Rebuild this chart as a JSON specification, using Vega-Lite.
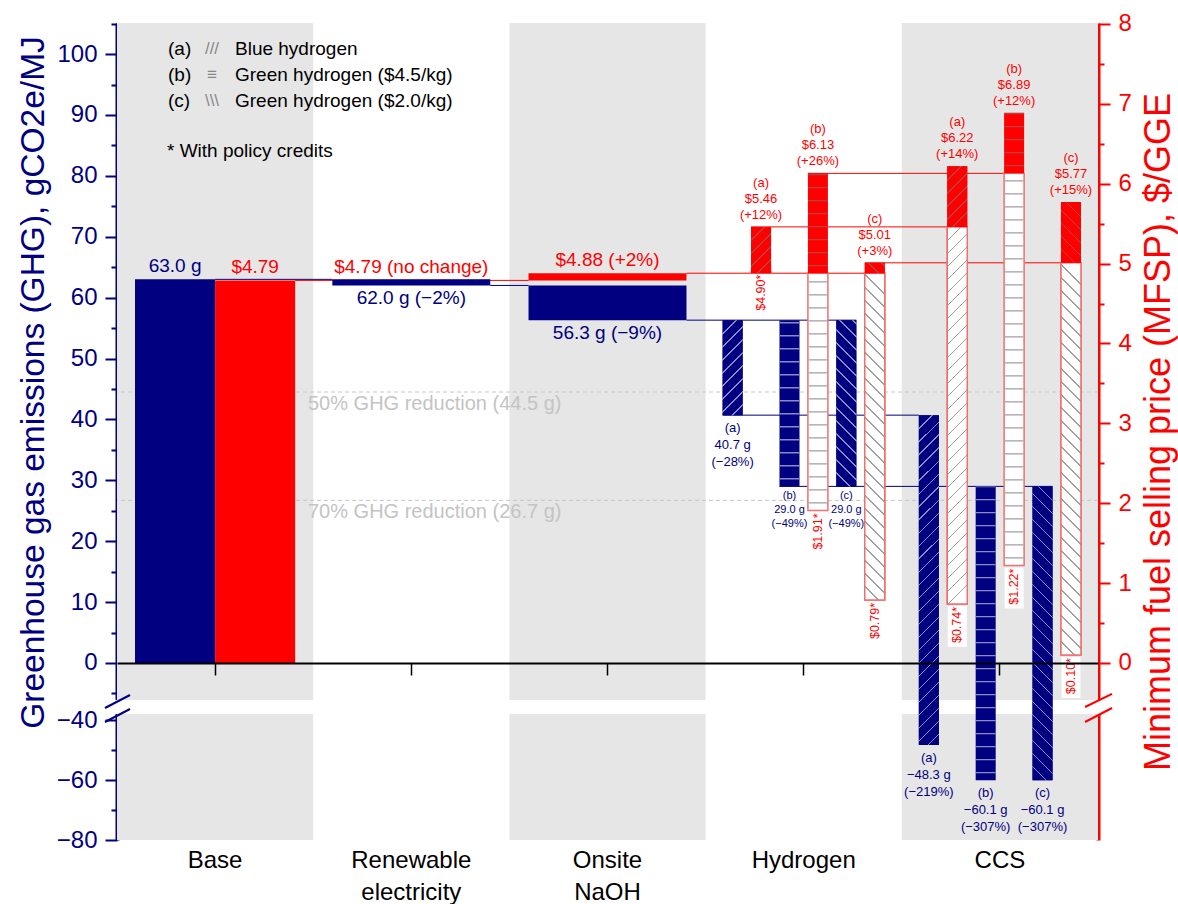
{
  "$schema": "https://vega.github.io/schema/vega-lite/v6.json",
  "width": 981,
  "height": 817,
  "autosize": {"type": "none"},
  "padding": {"left": 117, "top": 23, "right": 80, "bottom": 64},
  "config": {"font": "Liberation Sans", "view": {"stroke": null}, "axis": {"grid": false}},
  "datasets": {
    "bands": [{"cat": "Base"}, {"cat": "Onsite NaOH"}, {"cat": "CCS"}],
    "refs": [
      {"ref": 44.5, "label": "50% GHG reduction (44.5 g)"},
      {"ref": 26.7, "label": "70% GHG reduction (26.7 g)"}
    ],
    "ghgBase": [{"cat": "Base", "m": "GHG", "lo": 0, "hi": 63.0, "label": "63.0 g"}],
    "priceBase": [{"cat": "Base", "m": "MFSP", "lo": 0, "hi": 4.79, "label": "$4.79"}],
    "ghgWide": [
      {"cat": "Renewable electricity", "lo": 62.0, "hi": 63.0, "label": "62.0 g (−2%)"},
      {"cat": "Onsite NaOH", "lo": 56.3, "hi": 62.0, "label": "56.3 g (−9%)"}
    ],
    "priceWide": [
      {"cat": "Renewable electricity", "lo": 4.79, "hi": 4.79, "label": "$4.79 (no change)"},
      {"cat": "Onsite NaOH", "lo": 4.79, "hi": 4.88, "label": "$4.88 (+2%)"}
    ],
    "ghgNarrow": [
      {"cat": "Hydrogen", "slot": "G a", "lo": 40.7, "hi": 56.3, "label": "(a)\n40.7 g\n(−28%)"},
      {"cat": "Hydrogen", "slot": "G b", "lo": 29.0, "hi": 56.3, "label": "(b)\n29.0 g\n(−49%)"},
      {"cat": "Hydrogen", "slot": "G c", "lo": 29.0, "hi": 56.3, "label": "(c)\n29.0 g\n(−49%)"},
      {"cat": "CCS", "slot": "G a", "lo": -48.3, "hi": 40.7, "label": "(a)\n−48.3 g\n(−219%)"},
      {"cat": "CCS", "slot": "G b", "lo": -60.1, "hi": 29.0, "label": "(b)\n−60.1 g\n(−307%)"},
      {"cat": "CCS", "slot": "G c", "lo": -60.1, "hi": 29.0, "label": "(c)\n−60.1 g\n(−307%)"}
    ],
    "priceNarrow": [
      {"cat": "Hydrogen", "slot": "P a", "lo": 4.88, "hi": 5.46, "credit": 4.90, "label": "(a)\n$5.46\n(+12%)", "clabel": "$4.90*"},
      {"cat": "Hydrogen", "slot": "P b", "lo": 4.88, "hi": 6.13, "credit": 1.91, "label": "(b)\n$6.13\n(+26%)", "clabel": "$1.91*"},
      {"cat": "Hydrogen", "slot": "P c", "lo": 4.88, "hi": 5.01, "credit": 0.79, "label": "(c)\n$5.01\n(+3%)", "clabel": "$0.79*"},
      {"cat": "CCS", "slot": "P a", "lo": 5.46, "hi": 6.22, "credit": 0.74, "label": "(a)\n$6.22\n(+14%)", "clabel": "$0.74*"},
      {"cat": "CCS", "slot": "P b", "lo": 6.13, "hi": 6.89, "credit": 1.22, "label": "(b)\n$6.89\n(+12%)", "clabel": "$1.22*"},
      {"cat": "CCS", "slot": "P c", "lo": 5.01, "hi": 5.77, "credit": 0.10, "label": "(c)\n$5.77\n(+15%)", "clabel": "$0.10*"}
    ]
  },
  "layer": [
    {
      "data": {"name": "bands"},
      "layer": [
        {
          "mark": {"type": "rect", "color": "#e6e6e6"},
          "encoding": {
            "x": {"field": "cat", "type": "nominal", "scale": {"type": "band", "domain": ["Base", "Renewable electricity", "Onsite NaOH", "Hydrogen", "CCS"], "paddingInner": 0, "paddingOuter": 0}, "axis": null},
            "y": {"datum": -80, "type": "quantitative", "scale": {"domain": [-80, -38, -6.08, 105.1], "range": [817, 691, 677, 0], "nice": false, "zero": false},
              "axis": {"orient": "left", "title": "Greenhouse gas emissions (GHG), gCO2e/MJ", "values": [-80, -60, -40, 0, 10, 20, 30, 40, 50, 60, 70, 80, 90, 100],
                "tickSize": 12, "tickWidth": 2, "tickColor": "#000080", "domainColor": "#000080", "domainWidth": 4,
                "labelColor": "#000080", "labelFontSize": 24, "labelPadding": 8, "labelOverlap": false, "labelFlush": false,
                "titleColor": "#000080", "titleFontSize": 33.5, "titleFontWeight": "normal", "titlePadding": 6, "titleY": 359}},
            "y2": {"datum": 105.1}
          }
        },
        {
          "data": {"name": "refs"},
          "mark": {"type": "rule", "color": "#c8c8c8", "strokeDash": [4, 3], "strokeWidth": 1},
          "encoding": {
            "y": {"field": "ref", "type": "quantitative", "scale": {"domain": [-80, -38, -6.08, 105.1], "range": [817, 691, 677, 0], "nice": false, "zero": false},
              "axis": {"orient": "left", "title": "Greenhouse gas emissions (GHG), gCO2e/MJ", "values": [-80, -60, -40, 0, 10, 20, 30, 40, 50, 60, 70, 80, 90, 100],
                "tickSize": 12, "tickWidth": 2, "tickColor": "#000080", "domainColor": "#000080", "domainWidth": 4,
                "labelColor": "#000080", "labelFontSize": 24, "labelPadding": 8, "labelOverlap": false, "labelFlush": false,
                "titleColor": "#000080", "titleFontSize": 33.5, "titleFontWeight": "normal", "titlePadding": 6, "titleY": 359}}
          }
        }
      ]
    },
    {
      "data": {"values": [{}]},
      "mark": {"type": "rect", "color": "white"},
      "encoding": {
        "x": {"datum": -0.08, "type": "quantitative", "scale": {"domain": [0, 5], "nice": false, "zero": false}, "axis": null},
        "x2": {"datum": 5.08},
        "y": {"datum": -38, "type": "quantitative", "scale": {"domain": [-80, -38, -6.08, 105.1], "range": [817, 691, 677, 0], "nice": false, "zero": false},
          "axis": {"orient": "left", "title": null, "labels": false, "domain": false, "ticks": true, "tickSize": 6, "tickWidth": 2, "tickColor": "#000080",
            "values": [-70, -50, -5, 5, 15, 25, 35, 45, 55, 65, 75, 85, 95, 105]}},
        "y2": {"datum": -6.08}
      }
    },
    {
      "data": {"values": [{}]},
      "layer": [
        {"mark": {"type": "rule", "color": "#000080", "strokeWidth": 1}, "encoding": {"x": {"datum": 0.5, "type": "quantitative", "scale": {"domain": [0, 5], "nice": false, "zero": false}, "axis": null}, "x2": {"datum": 1.0975}, "y": {"datum": 63.0, "type": "quantitative", "scale": {"domain": [-80, -38, -6.08, 105.1], "range": [817, 691, 677, 0], "nice": false, "zero": false}, "axis": null}}},
        {"mark": {"type": "rule", "color": "#000080", "strokeWidth": 1}, "encoding": {"x": {"datum": 1.9025, "type": "quantitative", "scale": {"domain": [0, 5], "nice": false, "zero": false}, "axis": null}, "x2": {"datum": 2.0975}, "y": {"datum": 62.0, "type": "quantitative", "scale": {"domain": [-80, -38, -6.08, 105.1], "range": [817, 691, 677, 0], "nice": false, "zero": false}, "axis": null}}},
        {"mark": {"type": "rule", "color": "#000080", "strokeWidth": 1}, "encoding": {"x": {"datum": 2.9025, "type": "quantitative", "scale": {"domain": [0, 5], "nice": false, "zero": false}, "axis": null}, "x2": {"datum": 3.7684}, "y": {"datum": 56.3, "type": "quantitative", "scale": {"domain": [-80, -38, -6.08, 105.1], "range": [817, 691, 677, 0], "nice": false, "zero": false}, "axis": null}}},
        {"mark": {"type": "rule", "color": "#000080", "strokeWidth": 1}, "encoding": {"x": {"datum": 3.0868, "type": "quantitative", "scale": {"domain": [0, 5], "nice": false, "zero": false}, "axis": null}, "x2": {"datum": 4.0868}, "y": {"datum": 40.7, "type": "quantitative", "scale": {"domain": [-80, -38, -6.08, 105.1], "range": [817, 691, 677, 0], "nice": false, "zero": false}, "axis": null}}},
        {"mark": {"type": "rule", "color": "#000080", "strokeWidth": 1}, "encoding": {"x": {"datum": 3.3766, "type": "quantitative", "scale": {"domain": [0, 5], "nice": false, "zero": false}, "axis": null}, "x2": {"datum": 4.7684}, "y": {"datum": 29.0, "type": "quantitative", "scale": {"domain": [-80, -38, -6.08, 105.1], "range": [817, 691, 677, 0], "nice": false, "zero": false}, "axis": null}}},
        {
          "data": {"name": "refs"},
          "mark": {"type": "text", "align": "left", "baseline": "top", "dy": 2, "fontSize": 20, "color": "#c4c4c4"},
          "encoding": {
            "x": {"datum": 0.9735, "type": "quantitative", "scale": {"domain": [0, 5], "nice": false, "zero": false}, "axis": null},
            "y": {"field": "ref", "type": "quantitative", "scale": {"domain": [-80, -38, -6.08, 105.1], "range": [817, 691, 677, 0], "nice": false, "zero": false}, "axis": null},
            "text": {"field": "label"}
          }
        },
        {"mark": {"type": "text", "text": "(a)\n(b)\n(c)", "lineBreak": "\n", "lineHeight": 26, "align": "left", "baseline": "middle", "fontSize": 19, "color": "black"}, "encoding": {"x": {"datum": 0.26, "type": "quantitative", "scale": {"domain": [0, 5], "nice": false, "zero": false}, "axis": null}, "y": {"datum": 100.84, "type": "quantitative", "scale": {"domain": [-80, -38, -6.08, 105.1], "range": [817, 691, 677, 0], "nice": false, "zero": false}, "axis": null}}},
        {"mark": {"type": "text", "text": "///\n≡\n\\\\\\", "lineBreak": "\n", "lineHeight": 26, "align": "center", "baseline": "middle", "fontSize": 17, "color": "#888888"}, "encoding": {"x": {"datum": 0.4842, "type": "quantitative", "scale": {"domain": [0, 5], "nice": false, "zero": false}, "axis": null}, "y": {"datum": 100.84, "type": "quantitative", "scale": {"domain": [-80, -38, -6.08, 105.1], "range": [817, 691, 677, 0], "nice": false, "zero": false}, "axis": null}}},
        {"mark": {"type": "text", "text": "Blue hydrogen\nGreen hydrogen ($4.5/kg)\nGreen hydrogen ($2.0/kg)", "lineBreak": "\n", "lineHeight": 26, "align": "left", "baseline": "middle", "fontSize": 19, "color": "black"}, "encoding": {"x": {"datum": 0.6014, "type": "quantitative", "scale": {"domain": [0, 5], "nice": false, "zero": false}, "axis": null}, "y": {"datum": 100.84, "type": "quantitative", "scale": {"domain": [-80, -38, -6.08, 105.1], "range": [817, 691, 677, 0], "nice": false, "zero": false}, "axis": null}}},
        {"mark": {"type": "text", "text": "* With policy credits", "align": "left", "baseline": "middle", "fontSize": 19, "color": "black"}, "encoding": {"x": {"datum": 0.2548, "type": "quantitative", "scale": {"domain": [0, 5], "nice": false, "zero": false}, "axis": null}, "y": {"datum": 84.1, "type": "quantitative", "scale": {"domain": [-80, -38, -6.08, 105.1], "range": [817, 691, 677, 0], "nice": false, "zero": false}, "axis": null}}},
        {"mark": {"type": "rule", "color": "#000080", "strokeWidth": 2}, "encoding": {"x": {"datum": -0.0612, "type": "quantitative", "scale": {"domain": [0, 5], "nice": false, "zero": false}, "axis": null}, "x2": {"datum": 0.0663}, "y": {"datum": -24.32, "type": "quantitative", "scale": {"domain": [-80, -38, -6.08, 105.1], "range": [817, 691, 677, 0], "nice": false, "zero": false}, "axis": null}, "y2": {"datum": -5.26}}},
        {"mark": {"type": "rule", "color": "#000080", "strokeWidth": 2}, "encoding": {"x": {"datum": -0.0612, "type": "quantitative", "scale": {"domain": [0, 5], "nice": false, "zero": false}, "axis": null}, "x2": {"datum": 0.0663}, "y": {"datum": -40.67, "type": "quantitative", "scale": {"domain": [-80, -38, -6.08, 105.1], "range": [817, 691, 677, 0], "nice": false, "zero": false}, "axis": null}, "y2": {"datum": -26.6}}},
        {"mark": {"type": "rule", "color": "#ff0000", "strokeWidth": 2}, "encoding": {"x": {"datum": 4.934, "type": "quantitative", "scale": {"domain": [0, 5], "nice": false, "zero": false}, "axis": null}, "x2": {"datum": 5.0714}, "y": {"datum": -22.04, "type": "quantitative", "scale": {"domain": [-80, -38, -6.08, 105.1], "range": [817, 691, 677, 0], "nice": false, "zero": false}, "axis": null}, "y2": {"datum": -5.09}}},
        {"mark": {"type": "rule", "color": "#ff0000", "strokeWidth": 2}, "encoding": {"x": {"datum": 4.934, "type": "quantitative", "scale": {"domain": [0, 5], "nice": false, "zero": false}, "axis": null}, "x2": {"datum": 5.0714}, "y": {"datum": -40.67, "type": "quantitative", "scale": {"domain": [-80, -38, -6.08, 105.1], "range": [817, 691, 677, 0], "nice": false, "zero": false}, "axis": null}, "y2": {"datum": -24.32}}}
      ]
    },
    {
      "data": {"values": [{}]},
      "mark": {"type": "rule", "color": "#ff0000", "strokeWidth": 1},
      "encoding": {"x": {"datum": 0.9082, "type": "quantitative", "scale": {"domain": [0, 5], "nice": false, "zero": false}, "axis": null}, "x2": {"datum": 2.0975},
        "y": {"datum": 4.79, "type": "quantitative", "scale": {"domain": [-2.216, 8.0125], "range": [817, 0], "nice": false, "zero": false},
          "axis": {"orient": "right", "title": "Minimum fuel selling price (MFSP), $/GGE", "values": [0, 1, 2, 3, 4, 5, 6, 7, 8],
            "tickSize": 12, "tickWidth": 2, "tickColor": "#ff0000", "domainColor": "#ff0000", "domainWidth": 4,
            "labelColor": "#ff0000", "labelFontSize": 24, "labelPadding": 8, "labelOverlap": false, "labelFlush": false,
            "titleColor": "#ff0000", "titleFontSize": 36, "titleFontWeight": "normal", "titlePadding": 10, "titleAngle": 270, "titleBaseline": "top"}}}
    },
    {
      "data": {"values": [{}]},
      "mark": {"type": "rule", "color": "#ff0000", "strokeWidth": 1},
      "encoding": {"x": {"datum": 2.9025, "type": "quantitative", "scale": {"domain": [0, 5], "nice": false, "zero": false}, "axis": null}, "x2": {"datum": 3.9133},
        "y": {"datum": 4.88, "type": "quantitative", "scale": {"domain": [-2.216, 8.0125], "range": [817, 0], "nice": false, "zero": false},
          "axis": {"orient": "right", "title": null, "labels": false, "domain": false, "ticks": true, "tickSize": 6, "tickWidth": 2, "tickColor": "#ff0000",
            "values": [0.5, 1.5, 2.5, 3.5, 4.5, 5.5, 6.5, 7.5]}}}
    },
    {
      "data": {"values": [{}]},
      "layer": [
        {"mark": {"type": "rule", "color": "#ff0000", "strokeWidth": 1}, "encoding": {"x": {"datum": 3.2317, "type": "quantitative", "scale": {"domain": [0, 5], "nice": false, "zero": false}, "axis": null}, "x2": {"datum": 4.3337}, "y": {"datum": 5.46, "type": "quantitative", "scale": {"domain": [-2.216, 8.0125], "range": [817, 0], "nice": false, "zero": false}, "axis": null}}},
        {"mark": {"type": "rule", "color": "#ff0000", "strokeWidth": 1}, "encoding": {"x": {"datum": 3.5215, "type": "quantitative", "scale": {"domain": [0, 5], "nice": false, "zero": false}, "axis": null}, "x2": {"datum": 4.6235}, "y": {"datum": 6.13, "type": "quantitative", "scale": {"domain": [-2.216, 8.0125], "range": [817, 0], "nice": false, "zero": false}, "axis": null}}},
        {"mark": {"type": "rule", "color": "#ff0000", "strokeWidth": 1}, "encoding": {"x": {"datum": 3.8113, "type": "quantitative", "scale": {"domain": [0, 5], "nice": false, "zero": false}, "axis": null}, "x2": {"datum": 4.9133}, "y": {"datum": 5.01, "type": "quantitative", "scale": {"domain": [-2.216, 8.0125], "range": [817, 0], "nice": false, "zero": false}, "axis": null}}}
      ]
    },
    {
      "encoding": {
        "x": {
          "field": "cat", "type": "nominal",
          "scale": {"type": "band", "domain": ["Base", "Renewable electricity", "Onsite NaOH", "Hydrogen", "CCS"], "paddingInner": 0, "paddingOuter": 0},
          "axis": {
            "orient": "bottom", "offset": -177, "title": null, "zindex": 1,
            "domainColor": "black", "domainWidth": 2, "tickColor": "black", "tickSize": 12, "tickWidth": 1.5,
            "labelFontSize": 24, "labelColor": "black", "labelPadding": 173, "labelAngle": 0, "labelLineHeight": 32, "labelLimit": 0,
            "labelExpr": "datum.label == 'Renewable electricity' ? ['Renewable', 'electricity'] : datum.label == 'Onsite NaOH' ? ['Onsite', 'NaOH'] : datum.label"
          }
        }
      },
      "layer": [
        {
          "data": {"name": "ghgBase"},
          "encoding": {"xOffset": {"field": "m", "type": "nominal", "scale": {"domain": ["GHG", "MFSP"], "paddingInner": 0, "paddingOuter": 0.225}}},
          "layer": [
            {
              "mark": {"type": "bar", "color": "#000080"},
              "encoding": {
                "y": {"field": "lo", "type": "quantitative", "scale": {"domain": [-80, -38, -6.08, 105.1], "range": [817, 691, 677, 0], "nice": false, "zero": false}, "axis": null},
                "y2": {"field": "hi"}
              }
            },
            {
              "mark": {"type": "text", "baseline": "bottom", "dy": -3, "fontSize": 19, "color": "#000080"},
              "encoding": {
                "y": {"field": "hi", "type": "quantitative", "scale": {"domain": [-80, -38, -6.08, 105.1], "range": [817, 691, 677, 0], "nice": false, "zero": false}, "axis": null},
                "text": {"field": "label"}
              }
            }
          ]
        },
        {
          "data": {"name": "ghgWide"},
          "layer": [
            {
              "mark": {"type": "bar", "color": "#000080", "width": {"band": 0.805}},
              "encoding": {
                "y": {"field": "lo", "type": "quantitative", "scale": {"domain": [-80, -38, -6.08, 105.1], "range": [817, 691, 677, 0], "nice": false, "zero": false}, "axis": null},
                "y2": {"field": "hi"}
              }
            },
            {
              "mark": {"type": "text", "baseline": "top", "dy": 4, "fontSize": 19, "color": "#000080"},
              "encoding": {
                "y": {"field": "lo", "type": "quantitative", "scale": {"domain": [-80, -38, -6.08, 105.1], "range": [817, 691, 677, 0], "nice": false, "zero": false}, "axis": null},
                "text": {"field": "label"}
              }
            }
          ]
        },
        {
          "data": {"name": "ghgNarrow"},
          "encoding": {
            "xOffset": {"field": "slot", "type": "nominal", "scale": {"domain": ["G a", "P a", "G b", "P b", "G c", "P c"], "paddingInner": 0.296, "paddingOuter": 0.599}},
            "y": {"field": "lo", "type": "quantitative", "scale": {"domain": [-80, -38, -6.08, 105.1], "range": [817, 691, 677, 0], "nice": false, "zero": false}, "axis": null}
          },
          "layer": [
            {"mark": {"type": "bar", "color": "#000080"}, "encoding": {"y2": {"field": "hi"}}},
            {
              "transform": [{"filter": "datum.cat == 'Hydrogen' && datum.slot == 'G a'"}],
              "mark": {"type": "bar", "fill": {"gradient": "linear", "x1": 0, "y1": 0, "x2": 0.244, "y2": 1.1592, "stops": [
                {"offset": 0.1130, "color": "#000080"}, {"offset": 0.1130, "color": "#8a8ac4"}, {"offset": 0.1269, "color": "#8a8ac4"}, {"offset": 0.1269, "color": "#000080"},
                {"offset": 0.2261, "color": "#000080"}, {"offset": 0.2261, "color": "#8a8ac4"}, {"offset": 0.2400, "color": "#8a8ac4"}, {"offset": 0.2400, "color": "#000080"},
                {"offset": 0.3391, "color": "#000080"}, {"offset": 0.3391, "color": "#8a8ac4"}, {"offset": 0.3530, "color": "#8a8ac4"}, {"offset": 0.3530, "color": "#000080"},
                {"offset": 0.4522, "color": "#000080"}, {"offset": 0.4522, "color": "#8a8ac4"}, {"offset": 0.4661, "color": "#8a8ac4"}, {"offset": 0.4661, "color": "#000080"},
                {"offset": 0.5652, "color": "#000080"}, {"offset": 0.5652, "color": "#8a8ac4"}, {"offset": 0.5791, "color": "#8a8ac4"}, {"offset": 0.5791, "color": "#000080"},
                {"offset": 0.6783, "color": "#000080"}, {"offset": 0.6783, "color": "#8a8ac4"}, {"offset": 0.6922, "color": "#8a8ac4"}, {"offset": 0.6922, "color": "#000080"},
                {"offset": 0.7913, "color": "#000080"}, {"offset": 0.7913, "color": "#8a8ac4"}, {"offset": 0.8052, "color": "#8a8ac4"}, {"offset": 0.8052, "color": "#000080"},
                {"offset": 0.9043, "color": "#000080"}, {"offset": 0.9043, "color": "#8a8ac4"}, {"offset": 0.9182, "color": "#8a8ac4"}, {"offset": 0.9182, "color": "#000080"}
              ]}},
              "encoding": {"y2": {"field": "hi"}}
            },
            {
              "transform": [{"filter": "datum.cat == 'Hydrogen' && datum.slot == 'G c'"}],
              "mark": {"type": "bar", "fill": {"gradient": "linear", "x1": 0, "y1": 1, "x2": 0.1329, "y2": -0.1044, "stops": [
                {"offset": 0.0698, "color": "#000080"}, {"offset": 0.0698, "color": "#8a8ac4"}, {"offset": 0.0784, "color": "#8a8ac4"}, {"offset": 0.0784, "color": "#000080"},
                {"offset": 0.1396, "color": "#000080"}, {"offset": 0.1396, "color": "#8a8ac4"}, {"offset": 0.1482, "color": "#8a8ac4"}, {"offset": 0.1482, "color": "#000080"},
                {"offset": 0.2094, "color": "#000080"}, {"offset": 0.2094, "color": "#8a8ac4"}, {"offset": 0.2180, "color": "#8a8ac4"}, {"offset": 0.2180, "color": "#000080"},
                {"offset": 0.2793, "color": "#000080"}, {"offset": 0.2793, "color": "#8a8ac4"}, {"offset": 0.2879, "color": "#8a8ac4"}, {"offset": 0.2879, "color": "#000080"},
                {"offset": 0.3491, "color": "#000080"}, {"offset": 0.3491, "color": "#8a8ac4"}, {"offset": 0.3577, "color": "#8a8ac4"}, {"offset": 0.3577, "color": "#000080"},
                {"offset": 0.4189, "color": "#000080"}, {"offset": 0.4189, "color": "#8a8ac4"}, {"offset": 0.4275, "color": "#8a8ac4"}, {"offset": 0.4275, "color": "#000080"},
                {"offset": 0.4887, "color": "#000080"}, {"offset": 0.4887, "color": "#8a8ac4"}, {"offset": 0.4973, "color": "#8a8ac4"}, {"offset": 0.4973, "color": "#000080"},
                {"offset": 0.5585, "color": "#000080"}, {"offset": 0.5585, "color": "#8a8ac4"}, {"offset": 0.5671, "color": "#8a8ac4"}, {"offset": 0.5671, "color": "#000080"},
                {"offset": 0.6284, "color": "#000080"}, {"offset": 0.6284, "color": "#8a8ac4"}, {"offset": 0.6370, "color": "#8a8ac4"}, {"offset": 0.6370, "color": "#000080"},
                {"offset": 0.6982, "color": "#000080"}, {"offset": 0.6982, "color": "#8a8ac4"}, {"offset": 0.7068, "color": "#8a8ac4"}, {"offset": 0.7068, "color": "#000080"},
                {"offset": 0.7680, "color": "#000080"}, {"offset": 0.7680, "color": "#8a8ac4"}, {"offset": 0.7766, "color": "#8a8ac4"}, {"offset": 0.7766, "color": "#000080"},
                {"offset": 0.8378, "color": "#000080"}, {"offset": 0.8378, "color": "#8a8ac4"}, {"offset": 0.8464, "color": "#8a8ac4"}, {"offset": 0.8464, "color": "#000080"},
                {"offset": 0.9076, "color": "#000080"}, {"offset": 0.9076, "color": "#8a8ac4"}, {"offset": 0.9162, "color": "#8a8ac4"}, {"offset": 0.9162, "color": "#000080"},
                {"offset": 0.9774, "color": "#000080"}, {"offset": 0.9774, "color": "#8a8ac4"}, {"offset": 0.9860, "color": "#8a8ac4"}, {"offset": 0.9860, "color": "#000080"}
              ]}},
              "encoding": {"y2": {"field": "hi"}}
            },
            {
              "transform": [{"filter": "datum.cat == 'CCS' && datum.slot == 'G a'"}],
              "mark": {"type": "bar", "fill": {"gradient": "linear", "x1": 0, "y1": 0, "x2": 0.0641, "y2": 1.0568, "stops": [
                {"offset": 0.0372, "color": "#000080"}, {"offset": 0.0372, "color": "#8a8ac4"}, {"offset": 0.0418, "color": "#8a8ac4"}, {"offset": 0.0418, "color": "#000080"},
                {"offset": 0.0744, "color": "#000080"}, {"offset": 0.0744, "color": "#8a8ac4"}, {"offset": 0.0790, "color": "#8a8ac4"}, {"offset": 0.0790, "color": "#000080"},
                {"offset": 0.1115, "color": "#000080"}, {"offset": 0.1115, "color": "#8a8ac4"}, {"offset": 0.1161, "color": "#8a8ac4"}, {"offset": 0.1161, "color": "#000080"},
                {"offset": 0.1487, "color": "#000080"}, {"offset": 0.1487, "color": "#8a8ac4"}, {"offset": 0.1533, "color": "#8a8ac4"}, {"offset": 0.1533, "color": "#000080"},
                {"offset": 0.1859, "color": "#000080"}, {"offset": 0.1859, "color": "#8a8ac4"}, {"offset": 0.1905, "color": "#8a8ac4"}, {"offset": 0.1905, "color": "#000080"},
                {"offset": 0.2231, "color": "#000080"}, {"offset": 0.2231, "color": "#8a8ac4"}, {"offset": 0.2277, "color": "#8a8ac4"}, {"offset": 0.2277, "color": "#000080"},
                {"offset": 0.2602, "color": "#000080"}, {"offset": 0.2602, "color": "#8a8ac4"}, {"offset": 0.2648, "color": "#8a8ac4"}, {"offset": 0.2648, "color": "#000080"},
                {"offset": 0.2974, "color": "#000080"}, {"offset": 0.2974, "color": "#8a8ac4"}, {"offset": 0.3020, "color": "#8a8ac4"}, {"offset": 0.3020, "color": "#000080"},
                {"offset": 0.3346, "color": "#000080"}, {"offset": 0.3346, "color": "#8a8ac4"}, {"offset": 0.3392, "color": "#8a8ac4"}, {"offset": 0.3392, "color": "#000080"},
                {"offset": 0.3718, "color": "#000080"}, {"offset": 0.3718, "color": "#8a8ac4"}, {"offset": 0.3764, "color": "#8a8ac4"}, {"offset": 0.3764, "color": "#000080"},
                {"offset": 0.4089, "color": "#000080"}, {"offset": 0.4089, "color": "#8a8ac4"}, {"offset": 0.4135, "color": "#8a8ac4"}, {"offset": 0.4135, "color": "#000080"},
                {"offset": 0.4461, "color": "#000080"}, {"offset": 0.4461, "color": "#8a8ac4"}, {"offset": 0.4507, "color": "#8a8ac4"}, {"offset": 0.4507, "color": "#000080"},
                {"offset": 0.4833, "color": "#000080"}, {"offset": 0.4833, "color": "#8a8ac4"}, {"offset": 0.4879, "color": "#8a8ac4"}, {"offset": 0.4879, "color": "#000080"},
                {"offset": 0.5205, "color": "#000080"}, {"offset": 0.5205, "color": "#8a8ac4"}, {"offset": 0.5251, "color": "#8a8ac4"}, {"offset": 0.5251, "color": "#000080"},
                {"offset": 0.5576, "color": "#000080"}, {"offset": 0.5576, "color": "#8a8ac4"}, {"offset": 0.5622, "color": "#8a8ac4"}, {"offset": 0.5622, "color": "#000080"},
                {"offset": 0.5948, "color": "#000080"}, {"offset": 0.5948, "color": "#8a8ac4"}, {"offset": 0.5994, "color": "#8a8ac4"}, {"offset": 0.5994, "color": "#000080"},
                {"offset": 0.6320, "color": "#000080"}, {"offset": 0.6320, "color": "#8a8ac4"}, {"offset": 0.6366, "color": "#8a8ac4"}, {"offset": 0.6366, "color": "#000080"},
                {"offset": 0.6692, "color": "#000080"}, {"offset": 0.6692, "color": "#8a8ac4"}, {"offset": 0.6738, "color": "#8a8ac4"}, {"offset": 0.6738, "color": "#000080"},
                {"offset": 0.7063, "color": "#000080"}, {"offset": 0.7063, "color": "#8a8ac4"}, {"offset": 0.7109, "color": "#8a8ac4"}, {"offset": 0.7109, "color": "#000080"},
                {"offset": 0.7435, "color": "#000080"}, {"offset": 0.7435, "color": "#8a8ac4"}, {"offset": 0.7481, "color": "#8a8ac4"}, {"offset": 0.7481, "color": "#000080"},
                {"offset": 0.7807, "color": "#000080"}, {"offset": 0.7807, "color": "#8a8ac4"}, {"offset": 0.7853, "color": "#8a8ac4"}, {"offset": 0.7853, "color": "#000080"},
                {"offset": 0.8179, "color": "#000080"}, {"offset": 0.8179, "color": "#8a8ac4"}, {"offset": 0.8225, "color": "#8a8ac4"}, {"offset": 0.8225, "color": "#000080"},
                {"offset": 0.8550, "color": "#000080"}, {"offset": 0.8550, "color": "#8a8ac4"}, {"offset": 0.8596, "color": "#8a8ac4"}, {"offset": 0.8596, "color": "#000080"},
                {"offset": 0.8922, "color": "#000080"}, {"offset": 0.8922, "color": "#8a8ac4"}, {"offset": 0.8968, "color": "#8a8ac4"}, {"offset": 0.8968, "color": "#000080"},
                {"offset": 0.9294, "color": "#000080"}, {"offset": 0.9294, "color": "#8a8ac4"}, {"offset": 0.9340, "color": "#8a8ac4"}, {"offset": 0.9340, "color": "#000080"},
                {"offset": 0.9666, "color": "#000080"}, {"offset": 0.9666, "color": "#8a8ac4"}, {"offset": 0.9712, "color": "#8a8ac4"}, {"offset": 0.9712, "color": "#000080"}
              ]}},
              "encoding": {"y2": {"field": "hi"}}
            },
            {
              "transform": [{"filter": "datum.cat == 'CCS' && datum.slot == 'G c'"}],
              "mark": {"type": "bar", "fill": {"gradient": "linear", "x1": 0, "y1": 1, "x2": 0.0724, "y2": -0.0631, "stops": [
                {"offset": 0.0414, "color": "#000080"}, {"offset": 0.0414, "color": "#8a8ac4"}, {"offset": 0.0465, "color": "#8a8ac4"}, {"offset": 0.0465, "color": "#000080"},
                {"offset": 0.0828, "color": "#000080"}, {"offset": 0.0828, "color": "#8a8ac4"}, {"offset": 0.0879, "color": "#8a8ac4"}, {"offset": 0.0879, "color": "#000080"},
                {"offset": 0.1242, "color": "#000080"}, {"offset": 0.1242, "color": "#8a8ac4"}, {"offset": 0.1293, "color": "#8a8ac4"}, {"offset": 0.1293, "color": "#000080"},
                {"offset": 0.1657, "color": "#000080"}, {"offset": 0.1657, "color": "#8a8ac4"}, {"offset": 0.1708, "color": "#8a8ac4"}, {"offset": 0.1708, "color": "#000080"},
                {"offset": 0.2071, "color": "#000080"}, {"offset": 0.2071, "color": "#8a8ac4"}, {"offset": 0.2122, "color": "#8a8ac4"}, {"offset": 0.2122, "color": "#000080"},
                {"offset": 0.2485, "color": "#000080"}, {"offset": 0.2485, "color": "#8a8ac4"}, {"offset": 0.2536, "color": "#8a8ac4"}, {"offset": 0.2536, "color": "#000080"},
                {"offset": 0.2899, "color": "#000080"}, {"offset": 0.2899, "color": "#8a8ac4"}, {"offset": 0.2950, "color": "#8a8ac4"}, {"offset": 0.2950, "color": "#000080"},
                {"offset": 0.3313, "color": "#000080"}, {"offset": 0.3313, "color": "#8a8ac4"}, {"offset": 0.3364, "color": "#8a8ac4"}, {"offset": 0.3364, "color": "#000080"},
                {"offset": 0.3727, "color": "#000080"}, {"offset": 0.3727, "color": "#8a8ac4"}, {"offset": 0.3778, "color": "#8a8ac4"}, {"offset": 0.3778, "color": "#000080"},
                {"offset": 0.4142, "color": "#000080"}, {"offset": 0.4142, "color": "#8a8ac4"}, {"offset": 0.4193, "color": "#8a8ac4"}, {"offset": 0.4193, "color": "#000080"},
                {"offset": 0.4556, "color": "#000080"}, {"offset": 0.4556, "color": "#8a8ac4"}, {"offset": 0.4607, "color": "#8a8ac4"}, {"offset": 0.4607, "color": "#000080"},
                {"offset": 0.4970, "color": "#000080"}, {"offset": 0.4970, "color": "#8a8ac4"}, {"offset": 0.5021, "color": "#8a8ac4"}, {"offset": 0.5021, "color": "#000080"},
                {"offset": 0.5384, "color": "#000080"}, {"offset": 0.5384, "color": "#8a8ac4"}, {"offset": 0.5435, "color": "#8a8ac4"}, {"offset": 0.5435, "color": "#000080"},
                {"offset": 0.5798, "color": "#000080"}, {"offset": 0.5798, "color": "#8a8ac4"}, {"offset": 0.5849, "color": "#8a8ac4"}, {"offset": 0.5849, "color": "#000080"},
                {"offset": 0.6212, "color": "#000080"}, {"offset": 0.6212, "color": "#8a8ac4"}, {"offset": 0.6263, "color": "#8a8ac4"}, {"offset": 0.6263, "color": "#000080"},
                {"offset": 0.6626, "color": "#000080"}, {"offset": 0.6626, "color": "#8a8ac4"}, {"offset": 0.6677, "color": "#8a8ac4"}, {"offset": 0.6677, "color": "#000080"},
                {"offset": 0.7041, "color": "#000080"}, {"offset": 0.7041, "color": "#8a8ac4"}, {"offset": 0.7092, "color": "#8a8ac4"}, {"offset": 0.7092, "color": "#000080"},
                {"offset": 0.7455, "color": "#000080"}, {"offset": 0.7455, "color": "#8a8ac4"}, {"offset": 0.7506, "color": "#8a8ac4"}, {"offset": 0.7506, "color": "#000080"},
                {"offset": 0.7869, "color": "#000080"}, {"offset": 0.7869, "color": "#8a8ac4"}, {"offset": 0.7920, "color": "#8a8ac4"}, {"offset": 0.7920, "color": "#000080"},
                {"offset": 0.8283, "color": "#000080"}, {"offset": 0.8283, "color": "#8a8ac4"}, {"offset": 0.8334, "color": "#8a8ac4"}, {"offset": 0.8334, "color": "#000080"},
                {"offset": 0.8697, "color": "#000080"}, {"offset": 0.8697, "color": "#8a8ac4"}, {"offset": 0.8748, "color": "#8a8ac4"}, {"offset": 0.8748, "color": "#000080"},
                {"offset": 0.9111, "color": "#000080"}, {"offset": 0.9111, "color": "#8a8ac4"}, {"offset": 0.9162, "color": "#8a8ac4"}, {"offset": 0.9162, "color": "#000080"},
                {"offset": 0.9525, "color": "#000080"}, {"offset": 0.9525, "color": "#8a8ac4"}, {"offset": 0.9576, "color": "#8a8ac4"}, {"offset": 0.9576, "color": "#000080"}
              ]}},
              "encoding": {"y2": {"field": "hi"}}
            },
            {
              "transform": [{"filter": "datum.slot == 'G b'"}],
              "mark": {"type": "rule", "strokeWidth": 20, "strokeDash": [1.3, 11.7], "strokeDashOffset": 6, "color": "#8a8ac4"},
              "encoding": {"y2": {"field": "hi"}}
            },
            {
              "transform": [{"filter": "datum.cat == 'CCS' || datum.slot == 'G a'"}],
              "mark": {"type": "text", "baseline": "top", "dy": 7, "fontSize": 13, "lineHeight": 17, "lineBreak": "\n", "color": "#000080"},
              "encoding": {"text": {"field": "label"}}
            },
            {
              "transform": [{"filter": "datum.cat == 'Hydrogen' && datum.slot != 'G a'"}],
              "mark": {"type": "text", "baseline": "top", "dy": 4, "fontSize": 11, "lineHeight": 14, "lineBreak": "\n", "color": "#000080"},
              "encoding": {"text": {"field": "label"}}
            }
          ]
        }
      ],
      "resolve": {"scale": {"xOffset": "independent"}}
    },
    {
      "encoding": {
        "x": {"field": "cat", "type": "nominal", "scale": {"type": "band", "domain": ["Base", "Renewable electricity", "Onsite NaOH", "Hydrogen", "CCS"], "paddingInner": 0, "paddingOuter": 0}, "axis": null}
      },
      "layer": [
        {
          "data": {"name": "priceBase"},
          "encoding": {"xOffset": {"field": "m", "type": "nominal", "scale": {"domain": ["GHG", "MFSP"], "paddingInner": 0, "paddingOuter": 0.225}}},
          "layer": [
            {
              "mark": {"type": "bar", "color": "#ff0000"},
              "encoding": {
                "y": {"field": "lo", "type": "quantitative", "scale": {"domain": [-2.216, 8.0125], "range": [817, 0], "nice": false, "zero": false}, "axis": null},
                "y2": {"field": "hi"}
              }
            },
            {
              "mark": {"type": "text", "baseline": "bottom", "dy": -3, "fontSize": 19, "color": "#ff0000"},
              "encoding": {
                "y": {"field": "hi", "type": "quantitative", "scale": {"domain": [-2.216, 8.0125], "range": [817, 0], "nice": false, "zero": false}, "axis": null},
                "text": {"field": "label"}
              }
            }
          ]
        },
        {
          "data": {"name": "priceWide"},
          "layer": [
            {
              "transform": [{"filter": "datum.hi > datum.lo"}],
              "mark": {"type": "bar", "color": "#ff0000", "width": {"band": 0.805}},
              "encoding": {
                "y": {"field": "lo", "type": "quantitative", "scale": {"domain": [-2.216, 8.0125], "range": [817, 0], "nice": false, "zero": false}, "axis": null},
                "y2": {"field": "hi"}
              }
            },
            {
              "mark": {"type": "text", "baseline": "bottom", "dy": -3, "fontSize": 19, "color": "#ff0000"},
              "encoding": {
                "y": {"field": "hi", "type": "quantitative", "scale": {"domain": [-2.216, 8.0125], "range": [817, 0], "nice": false, "zero": false}, "axis": null},
                "text": {"field": "label"}
              }
            }
          ]
        },
        {
          "data": {"name": "priceNarrow"},
          "encoding": {"xOffset": {"field": "slot", "type": "nominal", "scale": {"domain": ["G a", "P a", "G b", "P b", "G c", "P c"], "paddingInner": 0.296, "paddingOuter": 0.599}}},
          "layer": [
            {
              "mark": {"type": "bar", "fill": "white", "stroke": "#f07070", "strokeWidth": 1.5},
              "encoding": {
                "y": {"field": "credit", "type": "quantitative", "scale": {"domain": [-2.216, 8.0125], "range": [817, 0], "nice": false, "zero": false}, "axis": null},
                "y2": {"field": "lo"}
              }
            },
            {
              "transform": [{"filter": "datum.cat == 'CCS' && datum.slot == 'P a'"}],
              "mark": {"type": "bar", "stroke": "#f07070", "strokeWidth": 1.5, "fill": {"gradient": "linear", "x1": 0, "y1": 0, "x2": 0.0557, "y2": 1.0501, "stops": [
                {"offset": 0.0327, "color": "#ffffff"}, {"offset": 0.0327, "color": "#a0a0a0"}, {"offset": 0.0367, "color": "#a0a0a0"}, {"offset": 0.0367, "color": "#ffffff"},
                {"offset": 0.0655, "color": "#ffffff"}, {"offset": 0.0655, "color": "#a0a0a0"}, {"offset": 0.0695, "color": "#a0a0a0"}, {"offset": 0.0695, "color": "#ffffff"},
                {"offset": 0.0982, "color": "#ffffff"}, {"offset": 0.0982, "color": "#a0a0a0"}, {"offset": 0.1022, "color": "#a0a0a0"}, {"offset": 0.1022, "color": "#ffffff"},
                {"offset": 0.1310, "color": "#ffffff"}, {"offset": 0.1310, "color": "#a0a0a0"}, {"offset": 0.1350, "color": "#a0a0a0"}, {"offset": 0.1350, "color": "#ffffff"},
                {"offset": 0.1637, "color": "#ffffff"}, {"offset": 0.1637, "color": "#a0a0a0"}, {"offset": 0.1677, "color": "#a0a0a0"}, {"offset": 0.1677, "color": "#ffffff"},
                {"offset": 0.1965, "color": "#ffffff"}, {"offset": 0.1965, "color": "#a0a0a0"}, {"offset": 0.2005, "color": "#a0a0a0"}, {"offset": 0.2005, "color": "#ffffff"},
                {"offset": 0.2292, "color": "#ffffff"}, {"offset": 0.2292, "color": "#a0a0a0"}, {"offset": 0.2332, "color": "#a0a0a0"}, {"offset": 0.2332, "color": "#ffffff"},
                {"offset": 0.2620, "color": "#ffffff"}, {"offset": 0.2620, "color": "#a0a0a0"}, {"offset": 0.2660, "color": "#a0a0a0"}, {"offset": 0.2660, "color": "#ffffff"},
                {"offset": 0.2947, "color": "#ffffff"}, {"offset": 0.2947, "color": "#a0a0a0"}, {"offset": 0.2987, "color": "#a0a0a0"}, {"offset": 0.2987, "color": "#ffffff"},
                {"offset": 0.3275, "color": "#ffffff"}, {"offset": 0.3275, "color": "#a0a0a0"}, {"offset": 0.3315, "color": "#a0a0a0"}, {"offset": 0.3315, "color": "#ffffff"},
                {"offset": 0.3602, "color": "#ffffff"}, {"offset": 0.3602, "color": "#a0a0a0"}, {"offset": 0.3642, "color": "#a0a0a0"}, {"offset": 0.3642, "color": "#ffffff"},
                {"offset": 0.3930, "color": "#ffffff"}, {"offset": 0.3930, "color": "#a0a0a0"}, {"offset": 0.3970, "color": "#a0a0a0"}, {"offset": 0.3970, "color": "#ffffff"},
                {"offset": 0.4257, "color": "#ffffff"}, {"offset": 0.4257, "color": "#a0a0a0"}, {"offset": 0.4297, "color": "#a0a0a0"}, {"offset": 0.4297, "color": "#ffffff"},
                {"offset": 0.4584, "color": "#ffffff"}, {"offset": 0.4584, "color": "#a0a0a0"}, {"offset": 0.4624, "color": "#a0a0a0"}, {"offset": 0.4624, "color": "#ffffff"},
                {"offset": 0.4912, "color": "#ffffff"}, {"offset": 0.4912, "color": "#a0a0a0"}, {"offset": 0.4952, "color": "#a0a0a0"}, {"offset": 0.4952, "color": "#ffffff"},
                {"offset": 0.5239, "color": "#ffffff"}, {"offset": 0.5239, "color": "#a0a0a0"}, {"offset": 0.5279, "color": "#a0a0a0"}, {"offset": 0.5279, "color": "#ffffff"},
                {"offset": 0.5567, "color": "#ffffff"}, {"offset": 0.5567, "color": "#a0a0a0"}, {"offset": 0.5607, "color": "#a0a0a0"}, {"offset": 0.5607, "color": "#ffffff"},
                {"offset": 0.5894, "color": "#ffffff"}, {"offset": 0.5894, "color": "#a0a0a0"}, {"offset": 0.5934, "color": "#a0a0a0"}, {"offset": 0.5934, "color": "#ffffff"},
                {"offset": 0.6222, "color": "#ffffff"}, {"offset": 0.6222, "color": "#a0a0a0"}, {"offset": 0.6262, "color": "#a0a0a0"}, {"offset": 0.6262, "color": "#ffffff"},
                {"offset": 0.6549, "color": "#ffffff"}, {"offset": 0.6549, "color": "#a0a0a0"}, {"offset": 0.6589, "color": "#a0a0a0"}, {"offset": 0.6589, "color": "#ffffff"},
                {"offset": 0.6877, "color": "#ffffff"}, {"offset": 0.6877, "color": "#a0a0a0"}, {"offset": 0.6917, "color": "#a0a0a0"}, {"offset": 0.6917, "color": "#ffffff"},
                {"offset": 0.7204, "color": "#ffffff"}, {"offset": 0.7204, "color": "#a0a0a0"}, {"offset": 0.7244, "color": "#a0a0a0"}, {"offset": 0.7244, "color": "#ffffff"},
                {"offset": 0.7532, "color": "#ffffff"}, {"offset": 0.7532, "color": "#a0a0a0"}, {"offset": 0.7572, "color": "#a0a0a0"}, {"offset": 0.7572, "color": "#ffffff"},
                {"offset": 0.7859, "color": "#ffffff"}, {"offset": 0.7859, "color": "#a0a0a0"}, {"offset": 0.7899, "color": "#a0a0a0"}, {"offset": 0.7899, "color": "#ffffff"},
                {"offset": 0.8187, "color": "#ffffff"}, {"offset": 0.8187, "color": "#a0a0a0"}, {"offset": 0.8227, "color": "#a0a0a0"}, {"offset": 0.8227, "color": "#ffffff"},
                {"offset": 0.8514, "color": "#ffffff"}, {"offset": 0.8514, "color": "#a0a0a0"}, {"offset": 0.8554, "color": "#a0a0a0"}, {"offset": 0.8554, "color": "#ffffff"},
                {"offset": 0.8841, "color": "#ffffff"}, {"offset": 0.8841, "color": "#a0a0a0"}, {"offset": 0.8881, "color": "#a0a0a0"}, {"offset": 0.8881, "color": "#ffffff"},
                {"offset": 0.9169, "color": "#ffffff"}, {"offset": 0.9169, "color": "#a0a0a0"}, {"offset": 0.9209, "color": "#a0a0a0"}, {"offset": 0.9209, "color": "#ffffff"},
                {"offset": 0.9496, "color": "#ffffff"}, {"offset": 0.9496, "color": "#a0a0a0"}, {"offset": 0.9536, "color": "#a0a0a0"}, {"offset": 0.9536, "color": "#ffffff"}
              ]}},
              "encoding": {
                "y": {"field": "credit", "type": "quantitative", "scale": {"domain": [-2.216, 8.0125], "range": [817, 0], "nice": false, "zero": false}, "axis": null},
                "y2": {"field": "lo"}
              }
            },
            {
              "transform": [{"filter": "datum.cat == 'Hydrogen' && datum.slot == 'P c'"}],
              "mark": {"type": "bar", "stroke": "#f07070", "strokeWidth": 1.5, "fill": {"gradient": "linear", "x1": 0, "y1": 1, "x2": 0.0647, "y2": -0.0573, "stops": [
                {"offset": 0.0375, "color": "#ffffff"}, {"offset": 0.0375, "color": "#a0a0a0"}, {"offset": 0.0421, "color": "#a0a0a0"}, {"offset": 0.0421, "color": "#ffffff"},
                {"offset": 0.0750, "color": "#ffffff"}, {"offset": 0.0750, "color": "#a0a0a0"}, {"offset": 0.0796, "color": "#a0a0a0"}, {"offset": 0.0796, "color": "#ffffff"},
                {"offset": 0.1125, "color": "#ffffff"}, {"offset": 0.1125, "color": "#a0a0a0"}, {"offset": 0.1171, "color": "#a0a0a0"}, {"offset": 0.1171, "color": "#ffffff"},
                {"offset": 0.1500, "color": "#ffffff"}, {"offset": 0.1500, "color": "#a0a0a0"}, {"offset": 0.1546, "color": "#a0a0a0"}, {"offset": 0.1546, "color": "#ffffff"},
                {"offset": 0.1875, "color": "#ffffff"}, {"offset": 0.1875, "color": "#a0a0a0"}, {"offset": 0.1921, "color": "#a0a0a0"}, {"offset": 0.1921, "color": "#ffffff"},
                {"offset": 0.2250, "color": "#ffffff"}, {"offset": 0.2250, "color": "#a0a0a0"}, {"offset": 0.2296, "color": "#a0a0a0"}, {"offset": 0.2296, "color": "#ffffff"},
                {"offset": 0.2625, "color": "#ffffff"}, {"offset": 0.2625, "color": "#a0a0a0"}, {"offset": 0.2671, "color": "#a0a0a0"}, {"offset": 0.2671, "color": "#ffffff"},
                {"offset": 0.3000, "color": "#ffffff"}, {"offset": 0.3000, "color": "#a0a0a0"}, {"offset": 0.3046, "color": "#a0a0a0"}, {"offset": 0.3046, "color": "#ffffff"},
                {"offset": 0.3375, "color": "#ffffff"}, {"offset": 0.3375, "color": "#a0a0a0"}, {"offset": 0.3421, "color": "#a0a0a0"}, {"offset": 0.3421, "color": "#ffffff"},
                {"offset": 0.3750, "color": "#ffffff"}, {"offset": 0.3750, "color": "#a0a0a0"}, {"offset": 0.3796, "color": "#a0a0a0"}, {"offset": 0.3796, "color": "#ffffff"},
                {"offset": 0.4125, "color": "#ffffff"}, {"offset": 0.4125, "color": "#a0a0a0"}, {"offset": 0.4171, "color": "#a0a0a0"}, {"offset": 0.4171, "color": "#ffffff"},
                {"offset": 0.4500, "color": "#ffffff"}, {"offset": 0.4500, "color": "#a0a0a0"}, {"offset": 0.4546, "color": "#a0a0a0"}, {"offset": 0.4546, "color": "#ffffff"},
                {"offset": 0.4874, "color": "#ffffff"}, {"offset": 0.4874, "color": "#a0a0a0"}, {"offset": 0.4920, "color": "#a0a0a0"}, {"offset": 0.4920, "color": "#ffffff"},
                {"offset": 0.5249, "color": "#ffffff"}, {"offset": 0.5249, "color": "#a0a0a0"}, {"offset": 0.5295, "color": "#a0a0a0"}, {"offset": 0.5295, "color": "#ffffff"},
                {"offset": 0.5624, "color": "#ffffff"}, {"offset": 0.5624, "color": "#a0a0a0"}, {"offset": 0.5670, "color": "#a0a0a0"}, {"offset": 0.5670, "color": "#ffffff"},
                {"offset": 0.5999, "color": "#ffffff"}, {"offset": 0.5999, "color": "#a0a0a0"}, {"offset": 0.6045, "color": "#a0a0a0"}, {"offset": 0.6045, "color": "#ffffff"},
                {"offset": 0.6374, "color": "#ffffff"}, {"offset": 0.6374, "color": "#a0a0a0"}, {"offset": 0.6420, "color": "#a0a0a0"}, {"offset": 0.6420, "color": "#ffffff"},
                {"offset": 0.6749, "color": "#ffffff"}, {"offset": 0.6749, "color": "#a0a0a0"}, {"offset": 0.6795, "color": "#a0a0a0"}, {"offset": 0.6795, "color": "#ffffff"},
                {"offset": 0.7124, "color": "#ffffff"}, {"offset": 0.7124, "color": "#a0a0a0"}, {"offset": 0.7170, "color": "#a0a0a0"}, {"offset": 0.7170, "color": "#ffffff"},
                {"offset": 0.7499, "color": "#ffffff"}, {"offset": 0.7499, "color": "#a0a0a0"}, {"offset": 0.7545, "color": "#a0a0a0"}, {"offset": 0.7545, "color": "#ffffff"},
                {"offset": 0.7874, "color": "#ffffff"}, {"offset": 0.7874, "color": "#a0a0a0"}, {"offset": 0.7920, "color": "#a0a0a0"}, {"offset": 0.7920, "color": "#ffffff"},
                {"offset": 0.8249, "color": "#ffffff"}, {"offset": 0.8249, "color": "#a0a0a0"}, {"offset": 0.8295, "color": "#a0a0a0"}, {"offset": 0.8295, "color": "#ffffff"},
                {"offset": 0.8624, "color": "#ffffff"}, {"offset": 0.8624, "color": "#a0a0a0"}, {"offset": 0.8670, "color": "#a0a0a0"}, {"offset": 0.8670, "color": "#ffffff"},
                {"offset": 0.8999, "color": "#ffffff"}, {"offset": 0.8999, "color": "#a0a0a0"}, {"offset": 0.9045, "color": "#a0a0a0"}, {"offset": 0.9045, "color": "#ffffff"},
                {"offset": 0.9374, "color": "#ffffff"}, {"offset": 0.9374, "color": "#a0a0a0"}, {"offset": 0.9420, "color": "#a0a0a0"}, {"offset": 0.9420, "color": "#ffffff"}
              ]}},
              "encoding": {
                "y": {"field": "credit", "type": "quantitative", "scale": {"domain": [-2.216, 8.0125], "range": [817, 0], "nice": false, "zero": false}, "axis": null},
                "y2": {"field": "lo"}
              }
            },
            {
              "transform": [{"filter": "datum.cat == 'CCS' && datum.slot == 'P c'"}],
              "mark": {"type": "bar", "stroke": "#f07070", "strokeWidth": 1.5, "fill": {"gradient": "linear", "x1": 0, "y1": 1, "x2": 0.0535, "y2": -0.0483, "stops": [
                {"offset": 0.0315, "color": "#ffffff"}, {"offset": 0.0315, "color": "#a0a0a0"}, {"offset": 0.0354, "color": "#a0a0a0"}, {"offset": 0.0354, "color": "#ffffff"},
                {"offset": 0.0631, "color": "#ffffff"}, {"offset": 0.0631, "color": "#a0a0a0"}, {"offset": 0.0670, "color": "#a0a0a0"}, {"offset": 0.0670, "color": "#ffffff"},
                {"offset": 0.0946, "color": "#ffffff"}, {"offset": 0.0946, "color": "#a0a0a0"}, {"offset": 0.0985, "color": "#a0a0a0"}, {"offset": 0.0985, "color": "#ffffff"},
                {"offset": 0.1262, "color": "#ffffff"}, {"offset": 0.1262, "color": "#a0a0a0"}, {"offset": 0.1301, "color": "#a0a0a0"}, {"offset": 0.1301, "color": "#ffffff"},
                {"offset": 0.1577, "color": "#ffffff"}, {"offset": 0.1577, "color": "#a0a0a0"}, {"offset": 0.1616, "color": "#a0a0a0"}, {"offset": 0.1616, "color": "#ffffff"},
                {"offset": 0.1892, "color": "#ffffff"}, {"offset": 0.1892, "color": "#a0a0a0"}, {"offset": 0.1931, "color": "#a0a0a0"}, {"offset": 0.1931, "color": "#ffffff"},
                {"offset": 0.2208, "color": "#ffffff"}, {"offset": 0.2208, "color": "#a0a0a0"}, {"offset": 0.2247, "color": "#a0a0a0"}, {"offset": 0.2247, "color": "#ffffff"},
                {"offset": 0.2523, "color": "#ffffff"}, {"offset": 0.2523, "color": "#a0a0a0"}, {"offset": 0.2562, "color": "#a0a0a0"}, {"offset": 0.2562, "color": "#ffffff"},
                {"offset": 0.2838, "color": "#ffffff"}, {"offset": 0.2838, "color": "#a0a0a0"}, {"offset": 0.2877, "color": "#a0a0a0"}, {"offset": 0.2877, "color": "#ffffff"},
                {"offset": 0.3154, "color": "#ffffff"}, {"offset": 0.3154, "color": "#a0a0a0"}, {"offset": 0.3193, "color": "#a0a0a0"}, {"offset": 0.3193, "color": "#ffffff"},
                {"offset": 0.3469, "color": "#ffffff"}, {"offset": 0.3469, "color": "#a0a0a0"}, {"offset": 0.3508, "color": "#a0a0a0"}, {"offset": 0.3508, "color": "#ffffff"},
                {"offset": 0.3785, "color": "#ffffff"}, {"offset": 0.3785, "color": "#a0a0a0"}, {"offset": 0.3824, "color": "#a0a0a0"}, {"offset": 0.3824, "color": "#ffffff"},
                {"offset": 0.4100, "color": "#ffffff"}, {"offset": 0.4100, "color": "#a0a0a0"}, {"offset": 0.4139, "color": "#a0a0a0"}, {"offset": 0.4139, "color": "#ffffff"},
                {"offset": 0.4415, "color": "#ffffff"}, {"offset": 0.4415, "color": "#a0a0a0"}, {"offset": 0.4454, "color": "#a0a0a0"}, {"offset": 0.4454, "color": "#ffffff"},
                {"offset": 0.4731, "color": "#ffffff"}, {"offset": 0.4731, "color": "#a0a0a0"}, {"offset": 0.4770, "color": "#a0a0a0"}, {"offset": 0.4770, "color": "#ffffff"},
                {"offset": 0.5046, "color": "#ffffff"}, {"offset": 0.5046, "color": "#a0a0a0"}, {"offset": 0.5085, "color": "#a0a0a0"}, {"offset": 0.5085, "color": "#ffffff"},
                {"offset": 0.5361, "color": "#ffffff"}, {"offset": 0.5361, "color": "#a0a0a0"}, {"offset": 0.5400, "color": "#a0a0a0"}, {"offset": 0.5400, "color": "#ffffff"},
                {"offset": 0.5677, "color": "#ffffff"}, {"offset": 0.5677, "color": "#a0a0a0"}, {"offset": 0.5716, "color": "#a0a0a0"}, {"offset": 0.5716, "color": "#ffffff"},
                {"offset": 0.5992, "color": "#ffffff"}, {"offset": 0.5992, "color": "#a0a0a0"}, {"offset": 0.6031, "color": "#a0a0a0"}, {"offset": 0.6031, "color": "#ffffff"},
                {"offset": 0.6308, "color": "#ffffff"}, {"offset": 0.6308, "color": "#a0a0a0"}, {"offset": 0.6347, "color": "#a0a0a0"}, {"offset": 0.6347, "color": "#ffffff"},
                {"offset": 0.6623, "color": "#ffffff"}, {"offset": 0.6623, "color": "#a0a0a0"}, {"offset": 0.6662, "color": "#a0a0a0"}, {"offset": 0.6662, "color": "#ffffff"},
                {"offset": 0.6938, "color": "#ffffff"}, {"offset": 0.6938, "color": "#a0a0a0"}, {"offset": 0.6977, "color": "#a0a0a0"}, {"offset": 0.6977, "color": "#ffffff"},
                {"offset": 0.7254, "color": "#ffffff"}, {"offset": 0.7254, "color": "#a0a0a0"}, {"offset": 0.7293, "color": "#a0a0a0"}, {"offset": 0.7293, "color": "#ffffff"},
                {"offset": 0.7569, "color": "#ffffff"}, {"offset": 0.7569, "color": "#a0a0a0"}, {"offset": 0.7608, "color": "#a0a0a0"}, {"offset": 0.7608, "color": "#ffffff"},
                {"offset": 0.7885, "color": "#ffffff"}, {"offset": 0.7885, "color": "#a0a0a0"}, {"offset": 0.7924, "color": "#a0a0a0"}, {"offset": 0.7924, "color": "#ffffff"},
                {"offset": 0.8200, "color": "#ffffff"}, {"offset": 0.8200, "color": "#a0a0a0"}, {"offset": 0.8239, "color": "#a0a0a0"}, {"offset": 0.8239, "color": "#ffffff"},
                {"offset": 0.8515, "color": "#ffffff"}, {"offset": 0.8515, "color": "#a0a0a0"}, {"offset": 0.8554, "color": "#a0a0a0"}, {"offset": 0.8554, "color": "#ffffff"},
                {"offset": 0.8831, "color": "#ffffff"}, {"offset": 0.8831, "color": "#a0a0a0"}, {"offset": 0.8870, "color": "#a0a0a0"}, {"offset": 0.8870, "color": "#ffffff"},
                {"offset": 0.9146, "color": "#ffffff"}, {"offset": 0.9146, "color": "#a0a0a0"}, {"offset": 0.9185, "color": "#a0a0a0"}, {"offset": 0.9185, "color": "#ffffff"},
                {"offset": 0.9461, "color": "#ffffff"}, {"offset": 0.9461, "color": "#a0a0a0"}, {"offset": 0.9500, "color": "#a0a0a0"}, {"offset": 0.9500, "color": "#ffffff"}
              ]}},
              "encoding": {
                "y": {"field": "credit", "type": "quantitative", "scale": {"domain": [-2.216, 8.0125], "range": [817, 0], "nice": false, "zero": false}, "axis": null},
                "y2": {"field": "lo"}
              }
            },
            {
              "transform": [{"filter": "datum.slot == 'P b'"}],
              "mark": {"type": "rule", "strokeWidth": 18.5, "strokeDash": [1.3, 11.7], "strokeDashOffset": 6, "color": "#a0a0a0"},
              "encoding": {
                "y": {"field": "credit", "type": "quantitative", "scale": {"domain": [-2.216, 8.0125], "range": [817, 0], "nice": false, "zero": false}, "axis": null},
                "y2": {"field": "lo"}
              }
            },
            {
              "mark": {"type": "bar", "color": "#ff0000"},
              "encoding": {
                "y": {"field": "lo", "type": "quantitative", "scale": {"domain": [-2.216, 8.0125], "range": [817, 0], "nice": false, "zero": false}, "axis": null},
                "y2": {"field": "hi"}
              }
            },
            {
              "transform": [{"filter": "datum.cat == 'Hydrogen' && datum.slot == 'P a'"}],
              "mark": {"type": "bar", "fill": {"gradient": "linear", "x1": 0, "y1": 0, "x2": 0.5213, "y2": 1.2068, "stops": [
                {"offset": 0.1961, "color": "#ff0000"}, {"offset": 0.1961, "color": "#b84040"}, {"offset": 0.2202, "color": "#b84040"}, {"offset": 0.2202, "color": "#ff0000"},
                {"offset": 0.3922, "color": "#ff0000"}, {"offset": 0.3922, "color": "#b84040"}, {"offset": 0.4163, "color": "#b84040"}, {"offset": 0.4163, "color": "#ff0000"},
                {"offset": 0.5882, "color": "#ff0000"}, {"offset": 0.5882, "color": "#b84040"}, {"offset": 0.6123, "color": "#b84040"}, {"offset": 0.6123, "color": "#ff0000"},
                {"offset": 0.7843, "color": "#ff0000"}, {"offset": 0.7843, "color": "#b84040"}, {"offset": 0.8084, "color": "#b84040"}, {"offset": 0.8084, "color": "#ff0000"}
              ]}},
              "encoding": {
                "y": {"field": "lo", "type": "quantitative", "scale": {"domain": [-2.216, 8.0125], "range": [817, 0], "nice": false, "zero": false}, "axis": null},
                "y2": {"field": "hi"}
              }
            },
            {
              "transform": [{"filter": "datum.cat == 'CCS' && datum.slot == 'P a'"}],
              "mark": {"type": "bar", "fill": {"gradient": "linear", "x1": 0, "y1": 0, "x2": 0.3952, "y2": 1.1993, "stops": [
                {"offset": 0.1611, "color": "#ff0000"}, {"offset": 0.1611, "color": "#b84040"}, {"offset": 0.1809, "color": "#b84040"}, {"offset": 0.1809, "color": "#ff0000"},
                {"offset": 0.3222, "color": "#ff0000"}, {"offset": 0.3222, "color": "#b84040"}, {"offset": 0.3420, "color": "#b84040"}, {"offset": 0.3420, "color": "#ff0000"},
                {"offset": 0.4833, "color": "#ff0000"}, {"offset": 0.4833, "color": "#b84040"}, {"offset": 0.5031, "color": "#b84040"}, {"offset": 0.5031, "color": "#ff0000"},
                {"offset": 0.6444, "color": "#ff0000"}, {"offset": 0.6444, "color": "#b84040"}, {"offset": 0.6642, "color": "#b84040"}, {"offset": 0.6642, "color": "#ff0000"},
                {"offset": 0.8055, "color": "#ff0000"}, {"offset": 0.8055, "color": "#b84040"}, {"offset": 0.8253, "color": "#b84040"}, {"offset": 0.8253, "color": "#ff0000"}
              ]}},
              "encoding": {
                "y": {"field": "lo", "type": "quantitative", "scale": {"domain": [-2.216, 8.0125], "range": [817, 0], "nice": false, "zero": false}, "axis": null},
                "y2": {"field": "hi"}
              }
            },
            {
              "transform": [{"filter": "datum.cat == 'Hydrogen' && datum.slot == 'P c'"}],
              "mark": {"type": "bar", "fill": {"gradient": "linear", "x1": 0, "y1": 1, "x2": 1.1964, "y2": 0.3779, "stops": [
                {"offset": 0.4276, "color": "#ff0000"}, {"offset": 0.4276, "color": "#b84040"}, {"offset": 0.4802, "color": "#b84040"}, {"offset": 0.4802, "color": "#ff0000"},
                {"offset": 0.8553, "color": "#ff0000"}, {"offset": 0.8553, "color": "#b84040"}, {"offset": 0.9079, "color": "#b84040"}, {"offset": 0.9079, "color": "#ff0000"}
              ]}},
              "encoding": {
                "y": {"field": "lo", "type": "quantitative", "scale": {"domain": [-2.216, 8.0125], "range": [817, 0], "nice": false, "zero": false}, "axis": null},
                "y2": {"field": "hi"}
              }
            },
            {
              "transform": [{"filter": "datum.cat == 'CCS' && datum.slot == 'P c'"}],
              "mark": {"type": "bar", "fill": {"gradient": "linear", "x1": 0, "y1": 1, "x2": 0.3952, "y2": -0.1993, "stops": [
                {"offset": 0.1611, "color": "#ff0000"}, {"offset": 0.1611, "color": "#b84040"}, {"offset": 0.1809, "color": "#b84040"}, {"offset": 0.1809, "color": "#ff0000"},
                {"offset": 0.3222, "color": "#ff0000"}, {"offset": 0.3222, "color": "#b84040"}, {"offset": 0.3420, "color": "#b84040"}, {"offset": 0.3420, "color": "#ff0000"},
                {"offset": 0.4833, "color": "#ff0000"}, {"offset": 0.4833, "color": "#b84040"}, {"offset": 0.5031, "color": "#b84040"}, {"offset": 0.5031, "color": "#ff0000"},
                {"offset": 0.6444, "color": "#ff0000"}, {"offset": 0.6444, "color": "#b84040"}, {"offset": 0.6642, "color": "#b84040"}, {"offset": 0.6642, "color": "#ff0000"},
                {"offset": 0.8055, "color": "#ff0000"}, {"offset": 0.8055, "color": "#b84040"}, {"offset": 0.8253, "color": "#b84040"}, {"offset": 0.8253, "color": "#ff0000"}
              ]}},
              "encoding": {
                "y": {"field": "lo", "type": "quantitative", "scale": {"domain": [-2.216, 8.0125], "range": [817, 0], "nice": false, "zero": false}, "axis": null},
                "y2": {"field": "hi"}
              }
            },
            {
              "transform": [{"filter": "datum.slot == 'P b'"}],
              "mark": {"type": "rule", "strokeWidth": 20, "strokeDash": [1.3, 11.7], "strokeDashOffset": 6, "color": "#b84040"},
              "encoding": {
                "y": {"field": "lo", "type": "quantitative", "scale": {"domain": [-2.216, 8.0125], "range": [817, 0], "nice": false, "zero": false}, "axis": null},
                "y2": {"field": "hi"}
              }
            },
            {
              "mark": {"type": "text", "baseline": "top", "dy": -50, "fontSize": 13, "lineHeight": 16, "lineBreak": "\n", "color": "#ff0000"},
              "encoding": {
                "y": {"field": "hi", "type": "quantitative", "scale": {"domain": [-2.216, 8.0125], "range": [817, 0], "nice": false, "zero": false}, "axis": null},
                "text": {"field": "label"}
              }
            },
            {
              "transform": [{"filter": "datum.cat == 'CCS'"}],
              "mark": {"type": "point", "shape": "M-0.95,0.2L0.95,0.2L0.95,4.3L-0.95,4.3Z", "size": 400, "filled": true, "color": "white", "opacity": 1, "strokeWidth": 0},
              "encoding": {
                "y": {"field": "credit", "type": "quantitative", "scale": {"domain": [-2.216, 8.0125], "range": [817, 0], "nice": false, "zero": false}, "axis": null}
              }
            },
            {
              "mark": {"type": "text", "angle": 270, "align": "right", "baseline": "middle", "dx": -3, "fontSize": 12.5, "color": "#ff0000"},
              "encoding": {
                "y": {"field": "credit", "type": "quantitative", "scale": {"domain": [-2.216, 8.0125], "range": [817, 0], "nice": false, "zero": false}, "axis": null},
                "text": {"field": "clabel"}
              }
            }
          ]
        }
      ],
      "resolve": {"scale": {"xOffset": "independent"}}
    }
  ],
  "resolve": {
    "scale": {"x": "independent", "y": "independent", "xOffset": "independent"},
    "axis": {"x": "independent", "y": "independent"}
  }
}
